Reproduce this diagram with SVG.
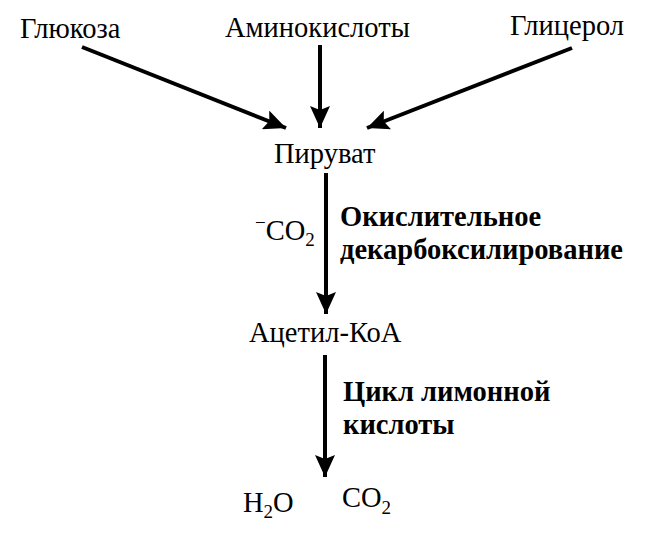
<svg xmlns="http://www.w3.org/2000/svg" width="651" height="536" viewBox="0 0 651 536">
<defs>
<style>
.t{font-family:"Liberation Serif","Times New Roman",serif;font-size:28.5px;fill:#000}
.b{font-family:"Liberation Serif","Times New Roman",serif;font-size:28.5px;font-weight:bold;fill:#000}
.s{font-size:19px}
.c{stroke:#000;stroke-width:4;fill:none}
</style>
<marker id="ah" viewBox="0 0 22 20" refX="22" refY="10" markerWidth="22" markerHeight="20" markerUnits="userSpaceOnUse" orient="auto">
<path d="M0,0 L22,10 L0,20 L4,10 Z" fill="#000"/>
</marker>
</defs>
<rect width="651" height="536" fill="#fff"/>
<g id="connectors">
<line class="c" x1="82" y1="47" x2="286" y2="128" marker-end="url(#ah)"/>
<line class="c" x1="320" y1="45" x2="320" y2="128" marker-end="url(#ah)"/>
<line class="c" x1="572" y1="48" x2="367" y2="128" marker-end="url(#ah)"/>
<line class="c" x1="326" y1="173" x2="326" y2="314" marker-end="url(#ah)"/>
<line class="c" x1="325" y1="355" x2="325" y2="477" marker-end="url(#ah)"/>
</g>
<g id="glucose"><text class="t" x="20" y="38">Глюкоза</text></g>
<g id="aminoacids"><text class="t" x="225" y="37">Аминокислоты</text></g>
<g id="glycerol"><text class="t" x="510" y="35">Глицерол</text></g>
<g id="pyruvate"><text class="t" x="274" y="163">Пируват</text></g>
<g id="co2-out"><text class="t" x="255" y="240"><tspan class="s" dy="-11">−</tspan><tspan dy="11">CO</tspan><tspan class="s" dy="6">2</tspan></text></g>
<g id="label-oxdecarb"><text class="b" x="340" y="226">Окислительное</text><text class="b" x="340" y="259">декарбоксилирование</text></g>
<g id="acetylcoa"><text class="t" x="249" y="342">Ацетил-КоА</text></g>
<g id="label-krebs"><text class="b" x="343" y="401">Цикл лимонной</text><text class="b" x="343" y="434">кислоты</text></g>
<g id="h2o"><text class="t" x="243" y="512">H<tspan class="s" dy="6">2</tspan><tspan dy="-6">O</tspan></text></g>
<g id="co2"><text class="t" x="342" y="507">CO<tspan class="s" dy="7">2</tspan></text></g>
</svg>
